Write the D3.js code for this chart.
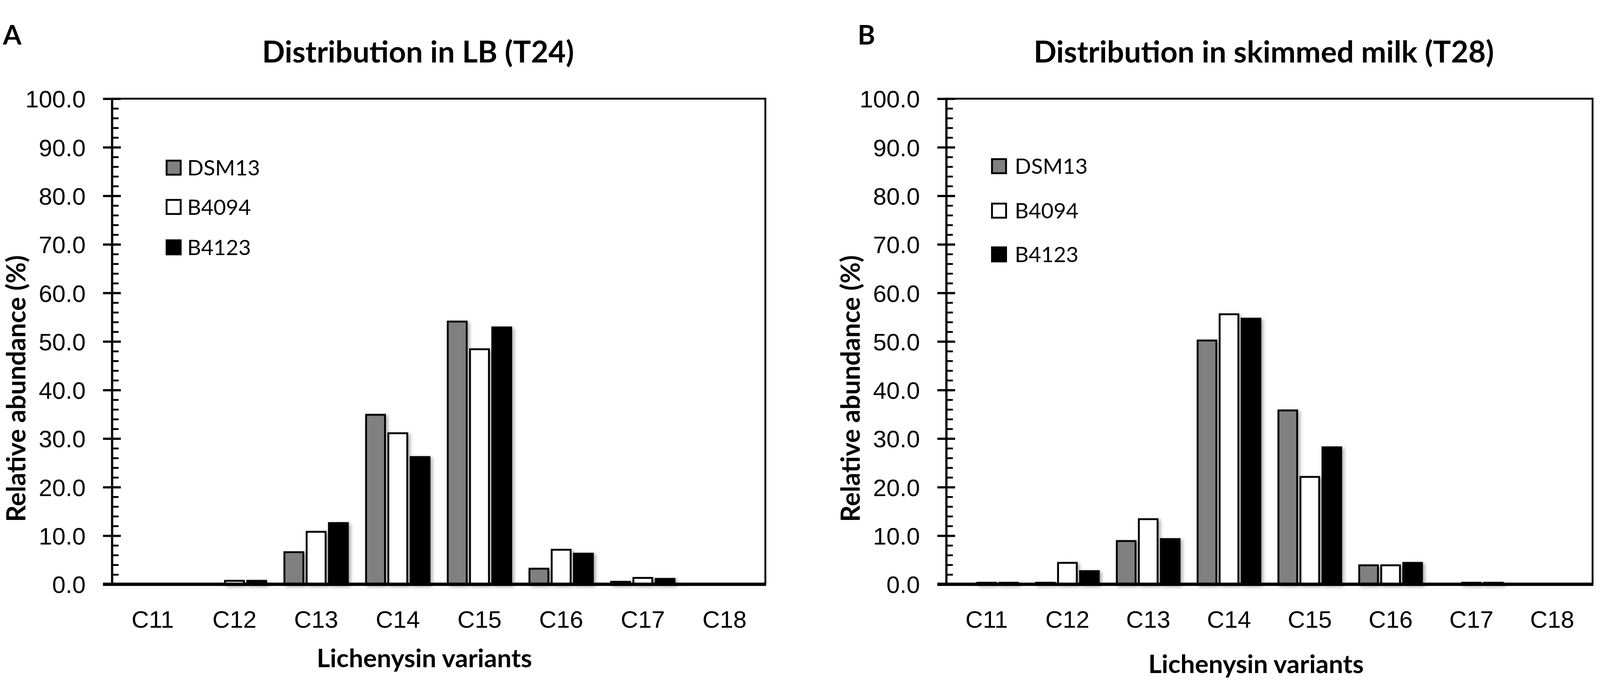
<!DOCTYPE html>
<html>
<head>
<meta charset="utf-8">
<script src="https://cdn.jsdelivr.net/npm/d3@7"></script>
<style>
  html, body { margin: 0; padding: 0; background: #fff; overflow: hidden; }
  svg { display: block; width: 100vw; height: 100vh; font-family: Lato, "Open Sans", sans-serif; }
</style>
</head>
<body>
<svg id="chart" viewBox="0 0 4317 1792" preserveAspectRatio="xMidYMid meet"></svg>
<script>
// chart values
var categories = ["C11", "C12", "C13", "C14", "C15", "C16", "C17", "C18"];
var strains = ["DSM13", "B4094", "B4123"];
var strainColors = ["#808080", "#ffffff", "#000000"];
var yTicks = [0, 10, 20, 30, 40, 50, 60, 70, 80, 90, 100];
var yMinorTicks = d3.range(0, 101, 2);

// A: LB (T24)
var lbDSM13 = [0, 0, 6.6, 34.9, 54.1, 3.2, 0.5, 0];
var lbB4094 = [0, 0.7, 10.8, 31.1, 48.4, 7.1, 1.3, 0];
var lbB4123 = [0, 0.7, 12.6, 26.2, 52.9, 6.3, 1.1, 0];

// B: skimmed milk (T28)
var milkDSM13 = [0, 0.3, 8.9, 50.2, 35.8, 3.9, 0, 0];
var milkB4094 = [0.3, 4.4, 13.4, 55.6, 22.1, 3.9, 0.3, 0];
var milkB4123 = [0.3, 2.7, 9.3, 54.7, 28.2, 4.4, 0.3, 0];

const svg = d3.select("#chart");

// soft excel-like shadow behind bars
svg.append("defs").append("filter")
    .attr("id", "shadow")
    .attr("x", "-30%").attr("y", "-10%")
    .attr("width", "160%").attr("height", "130%")
    .append("feDropShadow")
    .attr("dx", 5).attr("dy", 4)
    .attr("stdDeviation", 5)
    .attr("flood-color", "#000")
    .attr("flood-opacity", 0.35);

var drawPanel = (cfg) => {
    var series = cfg.series;
    var y = d3.scaleLinear().domain([0, 100]).range([1528, 218]);
    var x0 = d3.scaleBand().domain(categories).range([cfg.left, cfg.right]);
    var x1 = d3.scaleBand().domain(strains)
        .range([0, x0.bandwidth()])
        .paddingInner(0.15)
        .paddingOuter(0.41);
    var color = d3.scaleOrdinal().domain(strains).range(strainColors);

    const g = svg.append("g");

    // plot frame (top and right)
    g.append("path")
        .attr("d", `M${cfg.left},${y(100)}H${cfg.right}V${y(0)}`)
        .attr("fill", "none")
        .attr("stroke", "#000")
        .attr("stroke-width", 5);

    // bars
    var rows = [];
    categories.forEach((c, i) => {
        strains.forEach((s, j) => {
            rows.push({ cat: c, strain: s, value: series[j][i] });
        });
    });

    g.append("g")
        .attr("filter", "url(#shadow)")
        .selectAll("rect")
        .data(rows.filter(d => d.value > 0))
        .enter()
        .append("rect")
        .attr("x", d => x0(d.cat) + x1(d.strain))
        .attr("y", d => y(d.value))
        .attr("width", x1.bandwidth())
        .attr("height", d => y(0) - y(d.value))
        .attr("fill", d => color(d.strain))
        .attr("stroke", "#000")
        .attr("stroke-width", 5);

    // y axis: labels + outside major ticks
    g.append("g")
        .attr("transform", `translate(${cfg.left},0)`)
        .call(d3.axisLeft(y).tickValues(yTicks).tickFormat(d3.format(".1f"))
            .tickSize(24).tickSizeOuter(0).tickPadding(47))
        .call(a => a.select(".domain").attr("stroke-width", 6))
        .call(a => a.selectAll(".tick line").attr("stroke-width", 6))
        .call(a => a.selectAll("text")
            .attr("fill", "#000")
            .style("font-size", "65px")
            .attr("dy", "0.36em"));

    // inside minor ticks
    g.append("g")
        .attr("transform", `translate(${cfg.left},0)`)
        .call(d3.axisRight(y).tickValues(yMinorTicks).tickFormat("")
            .tickSize(18).tickSizeOuter(0))
        .call(a => a.select(".domain").remove())
        .call(a => a.selectAll(".tick line").attr("stroke-width", 5));

    // inside major ticks
    g.append("g")
        .attr("transform", `translate(${cfg.left},0)`)
        .call(d3.axisRight(y).tickValues(yTicks).tickFormat("")
            .tickSize(24).tickSizeOuter(0))
        .call(a => a.select(".domain").remove())
        .call(a => a.selectAll(".tick line").attr("stroke-width", 6));

    // x axis
    g.append("g")
        .attr("transform", `translate(0,${y(0)})`)
        .call(d3.axisBottom(x0).tickSize(0).tickSizeOuter(0))
        .call(a => a.select(".domain").remove())
        .call(a => a.selectAll("text")
            .attr("y", 117)
            .attr("dy", null)
            .attr("fill", "#000")
            .style("font-size", "65px"));

    g.append("line")
        .attr("x1", cfg.left - 24)
        .attr("x2", cfg.right + 2)
        .attr("y1", y(0))
        .attr("y2", y(0))
        .attr("stroke", "#000")
        .attr("stroke-width", 9);

    // legend
    var legend = g.append("g")
        .selectAll("g")
        .data(strains)
        .enter()
        .append("g")
        .attr("transform", (d, i) => `translate(${cfg.legendX},${cfg.legendY[i]})`);

    legend.append("rect")
        .attr("x", 2.5)
        .attr("y", -19)
        .attr("width", 38)
        .attr("height", 38)
        .attr("fill", d => color(d))
        .attr("stroke", "#000")
        .attr("stroke-width", 5);

    legend.append("text")
        .attr("x", cfg.legendTextDx)
        .attr("y", 21)
        .style("font-size", "58px")
        .text(d => d);

    // titles
    g.append("text")
        .attr("x", cfg.titleX)
        .attr("y", 120)
        .attr("text-anchor", "middle")
        .style("font-size", "81px")
        .style("font-weight", "bold")
        .text(cfg.title);

    g.append("text")
        .attr("x", cfg.letterX)
        .attr("y", 72)
        .style("font-size", "72px")
        .style("font-weight", "bold")
        .text(cfg.letter);

    g.append("text")
        .attr("x", cfg.xLabelX)
        .attr("y", cfg.xLabelY)
        .attr("text-anchor", "middle")
        .style("font-size", "69px")
        .style("font-weight", "bold")
        .text("Lichenysin variants");

    g.append("text")
        .attr("transform", `translate(${cfg.yLabelX},${cfg.yLabelY}) rotate(-90)`)
        .attr("text-anchor", "middle")
        .style("font-size", "70px")
        .style("font-weight", "bold")
        .text("Relative abundance (%)");
}

drawPanel({
    series: [lbDSM13, lbB4094, lbB4123],
    left: 302, right: 2065,
    title: "Distribution in LB (T24)", titleX: 1128,
    letter: "A", letterX: 8,
    legendX: 447, legendY: [404, 510, 619], legendTextDx: 58,
    xLabelX: 1145, xLabelY: 1752,
    yLabelX: 68, yLabelY: 1000
});

drawPanel({
    series: [milkDSM13, milkB4094, milkB4123],
    left: 2553, right: 4297,
    title: "Distribution in skimmed milk (T28)", titleX: 3410,
    letter: "B", letterX: 2314,
    legendX: 2674, legendY: [400, 520, 638], legendTextDx: 64,
    xLabelX: 3389, xLabelY: 1768,
    yLabelX: 2320, yLabelY: 1000
});
</script>
</body>
</html>
